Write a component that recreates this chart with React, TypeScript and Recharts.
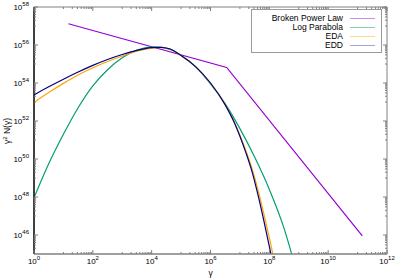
import React from 'react';
import { LineChart, Line, XAxis, YAxis, Legend, ReferenceLine } from 'recharts';

// values read as log10(gamma) / log10(gamma^2 N)
const bplGamma = [1.17, 6.55, 11.16];
const bplN = [57.12, 54.82, 45.95];

const lpGamma = [0, 0.5, 1.0, 1.5, 2.0, 2.5, 3.0, 3.5, 4.1, 4.6, 5.0, 5.5, 6.0, 6.5, 7.0, 7.5, 8.0, 8.5, 8.75, 8.9];
const lpN = [47.96, 49.75, 51.3, 52.7, 53.85, 54.7, 55.33, 55.73, 55.9, 55.78, 55.45, 54.85, 53.95, 52.9, 51.6, 50.1, 48.4, 46.35, 45.05, 44.2];

const edaGamma = [0, 0.5, 1.0, 1.5, 2.0, 2.5, 3.0, 3.5, 4.0, 4.3, 4.6, 5.0, 5.5, 6.0, 6.5, 6.8, 7.0, 7.2, 7.4, 7.6, 7.8, 8.0, 8.15, 8.3];
const edaN = [52.98, 53.5, 53.98, 54.42, 54.8, 55.13, 55.42, 55.67, 55.84, 55.87, 55.8, 55.45, 54.85, 54.0, 52.87, 51.98, 51.25, 50.45, 49.55, 48.45, 47.2, 45.85, 44.8, 43.7];

const eddGamma = [0, 0.5, 1.0, 1.5, 2.0, 2.5, 3.0, 3.5, 4.0, 4.3, 4.6, 5.0, 5.5, 6.0, 6.5, 6.8, 7.0, 7.2, 7.4, 7.6, 7.8, 8.0, 8.15];
const eddN = [53.37, 53.8, 54.2, 54.58, 54.93, 55.24, 55.5, 55.72, 55.86, 55.88, 55.8, 55.45, 54.85, 54.0, 52.85, 51.95, 51.2, 50.35, 49.4, 48.2, 46.85, 45.4, 44.3];

const seriesNames = ['Broken Power Law', 'Log Parabola', 'EDA', 'EDD'];
const seriesColors = ['#9400d3', '#009e73', '#ffa500', '#000080'];
const legendColors = ['#c98ef0', '#80cfb9', '#ffd98a', '#a6a6d6'];

const xMajorExp = [0, 2, 4, 6, 8, 10, 12];
const yMajorExp = [46, 48, 50, 52, 54, 56, 58];

const toPoints = (g: number[], n: number[]) =>
    g.map((v, i) => ({ g: Math.pow(10, v), n: Math.pow(10, n[i]) }));

const series = [
    toPoints(bplGamma, bplN),
    toPoints(lpGamma, lpN),
    toPoints(edaGamma, edaN),
    toPoints(eddGamma, eddN),
];

// minor tics sit at k*10^(odd) between the major (every 100x) tics
const minorTicks = (majors: number[], lo: number, hi: number) => {
    const out: number[] = [];
    majors.concat([majors[0] - 2]).forEach((e) => {
        for (let k = 1; k <= 9; k++) {
            const v = k * Math.pow(10, e + 1);
            if (v > lo && v < hi) out.push(v);
        }
    });
    return out;
};

const xTicks = xMajorExp.map((e) => Math.pow(10, e)).concat(minorTicks(xMajorExp, 1, 1e12));
const yTicks = yMajorExp.map((e) => Math.pow(10, e)).concat(minorTicks(yMajorExp, 1e45, 1e58));

const LEFT = 34;
const RIGHT = 387;
const TOP = 7;
const BOTTOM = 254;
const GRAY = '#808080';
const FONT = 'Liberation Sans, Arial, sans-serif';

const isMajor = (v: number) => {
    const e = Math.log10(v);
    const r = Math.round(e);
    return Math.abs(e - r) < 1e-6 && r % 2 === 0 ? r : null;
};

const XTick = (props: any) => {
    const { x, payload } = props;
    const m = isMajor(payload.value);
    const len = m !== null ? 4 : 2;
    return (
        <g>
            <line x1={x} x2={x} y1={BOTTOM} y2={BOTTOM - len} stroke={GRAY} />
            <line x1={x} x2={x} y1={TOP} y2={TOP + len} stroke={GRAY} />
            {m !== null && (
                <text x={x} y={264} textAnchor="middle" fontSize={8} fontFamily={FONT} fill="#000">
                    10<tspan dy={-4} fontSize={6}>{m}</tspan>
                </text>
            )}
        </g>
    );
};

const YTick = (props: any) => {
    const { y, payload } = props;
    const m = isMajor(payload.value);
    const len = m !== null ? 4 : 2;
    return (
        <g>
            <line x1={LEFT} x2={LEFT + len} y1={y} y2={y} stroke={GRAY} />
            <line x1={RIGHT} x2={RIGHT - len} y1={y} y2={y} stroke={GRAY} />
            {m !== null && (
                <text x={29} y={y + 3} textAnchor="end" fontSize={8} fontFamily={FONT} fill="#000">
                    10<tspan dy={-4} fontSize={6}>{m}</tspan>
                </text>
            )}
        </g>
    );
};

const YLabel = () => (
    <text x={10} y={131} transform="rotate(-90 10 131)" textAnchor="middle" fontSize={8.5} fontFamily={FONT} fill="#000">
        γ<tspan dy={-3} fontSize={6}>2</tspan>
        <tspan dy={3}> N(γ)</tspan>
    </text>
);

const XLabel = () => (
    <text x={210.5} y={276} textAnchor="middle" fontSize={8.5} fontFamily={FONT} fill="#000">
        γ
    </text>
);

const LegendBox = () => (
    <div
        style={{
            width: 131,
            height: 44,
            boxSizing: 'border-box',
            border: '1px solid #9a9a9a',
            background: '#fff',
            paddingTop: 4,
            fontFamily: FONT,
            fontSize: 8.5,
        }}
    >
        {seriesNames.map((name, i) => (
            <div key={name} style={{ display: 'flex', justifyContent: 'flex-end', alignItems: 'center', height: 9, lineHeight: '9px' }}>
                <span style={{ color: '#000' }}>{name}</span>
                <span style={{ display: 'inline-block', width: 25, height: 0, borderTop: `1.2px solid ${legendColors[i]}`, marginLeft: 7, marginRight: 6 }} />
            </div>
        ))}
    </div>
);

const App: React.FC = () => {
    return (
        <div style={{ position: 'absolute', left: 0, top: 0, background: '#fff' }}>
            <LineChart width={400} height={280} margin={{ top: TOP, right: 400 - RIGHT, left: 0, bottom: 0 }}>
                <XAxis
                    dataKey="g"
                    type="number"
                    scale="log"
                    domain={[1, 1e12]}
                    allowDataOverflow
                    ticks={xTicks}
                    interval={0}
                    tickLine={false}
                    tick={<XTick />}
                    height={280 - BOTTOM}
                    axisLine={{ stroke: GRAY, strokeWidth: 1.5 }}
                    label={<XLabel />}
                />
                <YAxis
                    type="number"
                    scale="log"
                    domain={[1e45, 1e58]}
                    allowDataOverflow
                    ticks={yTicks}
                    interval={0}
                    tickLine={false}
                    tick={<YTick />}
                    width={LEFT}
                    axisLine={{ stroke: '#000', strokeWidth: 1.5 }}
                    label={<YLabel />}
                />
                <ReferenceLine y={1e58} stroke={GRAY} />
                <ReferenceLine x={1e12} stroke={GRAY} />
                {series.map((d, i) => (
                    <Line
                        key={seriesNames[i]}
                        data={d}
                        dataKey="n"
                        name={seriesNames[i]}
                        type={i === 0 ? 'linear' : 'monotone'}
                        stroke={seriesColors[i]}
                        strokeWidth={1.2}
                        dot={false}
                        isAnimationActive={false}
                    />
                ))}
                <Legend
                    layout="vertical"
                    align="center"
                    verticalAlign="middle"
                    content={<LegendBox />}
                    wrapperStyle={{ position: 'absolute', left: 251, top: 9, width: 131, height: 44 }}
                />
            </LineChart>
        </div>
    );
};

export default App;
